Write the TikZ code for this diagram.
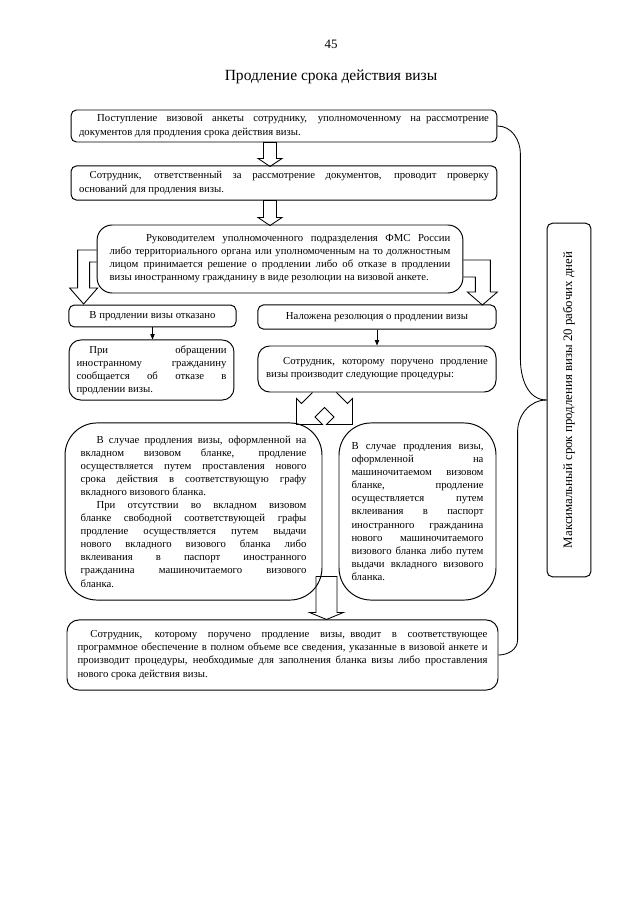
\documentclass[tikz,border=0pt]{standalone}
\usepackage{fontspec}
\setmainfont{Liberation Serif}
\usetikzlibrary{arrows.meta, calc}

\begin{document}
\begin{tikzpicture}[
    x=0.0328cm, y=-0.0328cm,
    box/.style={
        rectangle,
        rounded corners=5pt,
        draw,
        line width=0.9pt,
        inner sep=0pt,
        align=justify,
        font=\fontsize{10}{12.2}\selectfont
    },
    widebox/.style={box, minimum width=13.97cm, text width=13.45cm},
    smallbox/.style={box, align=center},
    bigbox/.style={box, rounded corners=30pt, minimum height=5.81cm},
    blockarrow/.style={draw, line width=0.8pt, line join=miter},
    arrow/.style={-{Triangle[length=5pt, width=4pt]}, line width=0.8pt},
    brace/.style={line width=0.8pt}
]
\useasboundingbox (0,0) rectangle (640,905);

\node[font=\fontsize{12}{14}\selectfont] (page) at (331,44) {45};
\node[font=\fontsize{14.5}{16}\selectfont] (title) at (331,77) {Продление срока действия визы};

% main chain
\node[widebox, minimum height=1.05cm] (receipt) at (284,126) {\hspace*{1.7em}Поступление визовой анкеты сотруднику, уполномоченному на\enspace рассмотрение\linebreak документов для продления срока действия визы.};
\node[widebox, minimum height=1.12cm] (check) at (284,183) {\hspace*{1em}Сотрудник, ответственный за рассмотрение документов, проводит проверку\linebreak оснований для продления визы.};
\node[box, rounded corners=14pt, minimum width=12cm, minimum height=2.23cm, text width=11.18cm] (decision) at (280,259) {\hspace*{3.4em}Руководителем уполномоченного подразделения ФМС России\linebreak либо территориального органа или уполномоченным на то должностным\linebreak лицом\enspace принимается решение о продлении либо об отказе в продлении\linebreak визы иностранному гражданину в виде резолюции на визовой анкете.};

\node[smallbox, minimum width=5.48cm, minimum height=0.72cm] (refused) at (152.5,316) {В продлении визы отказано};
\node[smallbox, minimum width=7.81cm, minimum height=0.79cm] (granted) at (377,317) {Наложена резолюция о продлении визы};

\node[box, rounded corners=11pt, minimum width=5.41cm, minimum height=1.97cm, text width=4.92cm] (notify) at (151.5,370) {\hspace*{1.2em}При обращении\linebreak иностранному гражданину\linebreak сообщается об отказе в\linebreak продлении визы.};
\node[box, rounded corners=11pt, minimum width=7.81cm, minimum height=1.51cm, text width=7.28cm] (procedures) at (377,369) {\hspace*{1.6em}Сотрудник, которому поручено продление\linebreak визы производит следующие процедуры:};

\node[bigbox, minimum width=8.43cm, text width=7.41cm] (insertblank) at (193.5,511.5) {\hspace*{1.5em}В случае продления визы, оформленной на\linebreak вкладном визовом бланке, продление\linebreak осуществляется путем проставления нового\linebreak срока действия в соответствующую графу\linebreak вкладного визового бланка.\par
\hspace*{1.5em}При отсутствии во вкладном визовом\linebreak бланке свободной соответствующей графы\linebreak продление осуществляется путем выдачи\linebreak нового вкладного визового бланка либо\linebreak вклеивания в паспорт иностранного\linebreak гражданина машиночитаемого визового\linebreak бланка.};
\node[bigbox, minimum width=5.15cm, text width=4.33cm] (mrzblank) at (417.5,511.5) {В случае продления визы,\linebreak оформленной на\linebreak машиночитаемом визовом\linebreak бланке, продление\linebreak осуществляется путем\linebreak вклеивания в паспорт\linebreak иностранного гражданина\linebreak нового машиночитаемого\linebreak визового бланка либо путем\linebreak выдачи вкладного визового\linebreak бланка.};

\node[box, rounded corners=11pt, minimum width=14.14cm, minimum height=2.3cm, text width=13.45cm] (entry) at (282.5,655) {\hspace*{1.2em}Сотрудник, которому поручено продление визы,\enspace вводит в соответствующее\linebreak программное обеспечение в полном объеме все сведения, указанные в визовой анкете и\linebreak производит процедуры, необходимые для заполнения бланка визы либо проставления\linebreak нового срока действия визы.};

\node[box, rotate=90, align=center, minimum width=11.6cm, minimum height=1.44cm, font=\fontsize{12}{14}\selectfont] (maxterm) at (569,400) {Максимальный срок продления визы 20 рабочих дней};

% block arrows
\draw[blockarrow, shift={(receipt.south)}] (-20.5,0) -- (-20.5,16) -- (-26,16) -- (-14,24) -- (-2,16) -- (-7.5,16) -- (-7.5,0) -- cycle;
\draw[blockarrow, shift={(check.south)}] (-20.5,0) -- (-20.5,17) -- (-26,17) -- (-14,25) -- (-2,17) -- (-7.5,17) -- (-7.5,0) -- cycle;
\draw[blockarrow, shift={(decision.west)}] (0,-9) -- (-19,-9) -- (-19,29) -- (-27,29) -- (-13,45) -- (1,29) -- (-7,29) -- (-7,3) -- (0,3);
\draw[blockarrow, shift={(decision.east)}] (0,1) -- (27,1) -- (27,33) -- (34,33) -- (19,46) -- (4,33) -- (12,33) -- (12,18) -- (0,18);

\draw[arrow] (refused.south) -- (refused.south |- notify.north);
\draw[arrow] (granted.south) -- (granted.south |- procedures.north);

\draw[blockarrow, shift={($(procedures.south west)+(67,0)$)}] (-12,0) -- (-23,11) -- (-28,6) -- (-28,32) -- (-2,32) -- (-9.5,24.5) -- (0,15) -- (9.5,24.5) -- (2,32) -- (28,32) -- (28,6) -- (23,11) -- (12,0);
\draw[blockarrow, shift={($(entry.north west)+(260,0)$)}] (-10.5,-43) -- (-10.5,-7) -- (-17,-7) -- (0,0) -- (17,-7) -- (10.5,-7) -- (10.5,-43) -- cycle;

% bracket to the time limit
\draw[brace] (receipt.east) to[out=0, in=90] ++(23,28) -- ++(0,205) to[out=-90, in=180] (maxterm.north);
\draw[brace] (maxterm.north) to[out=180, in=90] ++(-29,32) -- ++(0,208) to[out=-90, in=0] (entry.east);

\end{tikzpicture}
\end{document}
